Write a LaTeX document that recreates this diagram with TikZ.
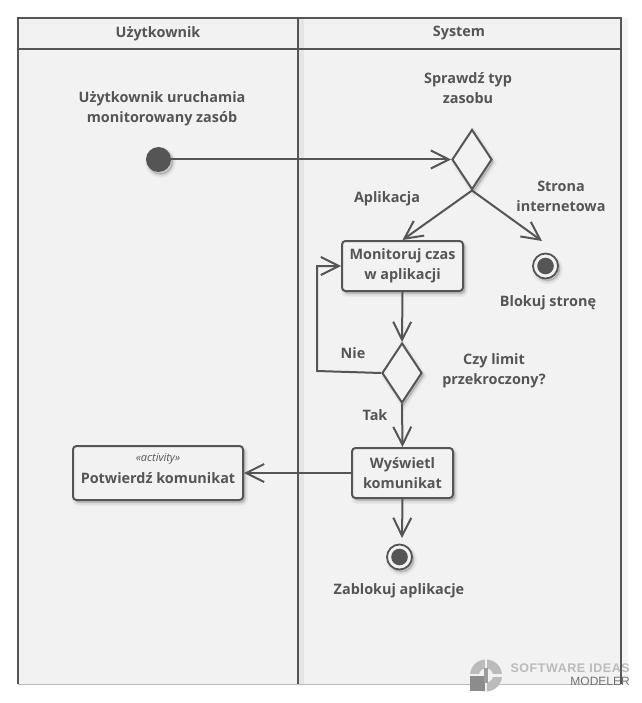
\documentclass[tikz,border=0pt]{standalone}
\usepackage{fontspec}
\setmainfont{Open Sans}
\newfontfamily\wmfont{Liberation Sans}
\newfontfamily\wmwide[LetterSpace=4.5]{Liberation Sans}
\usetikzlibrary{arrows.meta,shapes.geometric,shadows,calc}
\definecolor{ink}{HTML}{555555}
\definecolor{panel}{HTML}{F2F2F2}
\definecolor{wm}{HTML}{BBBBBB}
\tikzset{
  softshadow/.style={
    preaction={fill=black,opacity=.04,transform canvas={xshift=2pt,yshift=-3pt},draw=black,line width=6pt},
    preaction={fill=black,opacity=.05,transform canvas={xshift=2pt,yshift=-3pt},draw=black,line width=3pt},
    preaction={fill=black,opacity=.06,transform canvas={xshift=2pt,yshift=-2pt},draw=black,line width=1pt}},
  lane/.style={draw=ink,line width=2pt},
  lanetitle/.style={text=ink,font=\fontsize{14.4}{16}\selectfont\bfseries,align=center},
  lbl/.style={text=ink,font=\fontsize{14.4}{20}\selectfont\bfseries,align=center},
  actbox/.style={softshadow,draw=ink,line width=2pt,fill=panel,rounded corners=3.5pt,minimum width=#1,inner sep=0pt,
     text=ink,font=\fontsize{14.4}{20}\selectfont\bfseries,align=center},
  dec/.style={softshadow,draw=ink,line width=2pt,fill=panel,diamond,aspect=.667,minimum width=40pt,minimum height=60pt,inner sep=0pt},
  startdot/.style={softshadow,circle,fill=ink,minimum size=25pt,inner sep=0pt},
  enddot/.style={softshadow,circle,draw=ink,line width=1.8pt,fill=panel,minimum size=25pt,inner sep=0pt,
     path picture={\fill[ink] (path picture bounding box.center) circle (8.3pt);}},
  flow/.style={draw=ink,line width=2pt,-{Straight Barb[length=18pt,width=18pt,line width=2pt]}}
}
\begin{document}
\begin{tikzpicture}[x=1pt,y=-1pt]
\useasboundingbox (0,0) rectangle (641,703);
\fill[panel] (18,18) rectangle (621,684);
\draw[wm,line width=1pt] (18,684) -- (621,684);
% lane shadows
\fill[black,opacity=.05] (299,18) rectangle (304,684);
\fill[black,opacity=.04] (622,18) rectangle (628,684);
\coordinate (tl) at (18,18); \coordinate (tm) at (298,18); \coordinate (tr) at (621,18);
\coordinate (bl) at (18,684); \coordinate (bm) at (298,684); \coordinate (br) at (621,684);
\coordinate (hl) at (18,49); \coordinate (hr) at (621,49);
\draw[lane] (bl) -- (tl) -- (tr) -- (br);
\draw[lane] (tm) -- (bm);
\draw[lane] (hl) -- (hr);
\node[lanetitle] (lane1) at (158,33.5) {Użytkownik};
\node[lanetitle] (lane2) at (459,33.5) {System};
% nodes
\node[lbl] (t1) at (162,108.7) {Użytkownik uruchamia\\monitorowany zasób};
\node[startdot] (start) at (158.5,159.5) {};
\node[lbl] (t2) at (468,88) {Sprawdź typ\\zasobu};
\node[dec] (d1) at (472,159.5) {};
\node[lbl] (t3) at (387,199) {Aplikacja};
\node[lbl] (t4) at (561,196) {Strona\\internetowa};
\node[actbox=121pt,minimum height=50pt] (mon) at (402.5,266) {\rule{0pt}{0pt}Monitoruj czas\\w aplikacji};
\node[enddot] (end1) at (545.5,266) {};
\node[lbl] (t5) at (548,303) {Blokuj stronę};
\node[dec] (d2) at (402,373) {};
\node[lbl] (t6) at (353,353) {Nie};
\node[lbl] (t7) at (494,371) {Czy limit\\przekroczony?};
\node[lbl] (t8) at (375,415) {Tak};
\node[actbox=101pt,minimum height=50pt] (wys) at (402.5,473) {Wyświetl\\komunikat};
\node[actbox=170pt,minimum height=54pt,text depth=0pt] (pot) at (158,473) {};
\node[text=ink,font=\fontsize{11}{12}\selectfont\itshape] (ster) at (158,459) {«activity»};
\node[text=ink,font=\fontsize{14.4}{16}\selectfont\bfseries] (potl) at (158,478.5) {Potwierdź komunikat};
\node[enddot] (end2) at (399.5,557) {};
\node[lbl] (t9) at (399,590.5) {Zablokuj aplikacje};
% connector free ends
\coordinate (e1) at (542,241);
\coordinate (e2) at (402,538);
\coordinate (b1) at (317,371);
\coordinate (b2) at (317,266);
% connectors
\draw[flow] (start.east) -- (d1.west);
\draw[flow] (d1.south) -- (mon.north);
\draw[flow] (d1.south) -- (e1);
\draw[flow] (mon.south) -- (d2.north);
\draw[flow] (d2.west) -- (b1) -- (b2) -- (mon.west);
\draw[flow] (d2.south) -- (wys.north);
\draw[flow] (wys.west) -- (pot.east);
\draw[flow] (wys.south) -- (e2);
% watermark
\fill[wm] (486,675.5) circle (16pt);
\fill[panel] (486,675.5) circle (7pt);
\fill[panel] (484.8,659) rectangle (487.2,692);
\fill[panel] (470,674.3) rectangle (502,676.7);
\fill[black!45] (470,676) rectangle (485,691);
\fill[wm!70!ink] (484,668) rectangle (488,683);
\node[text=wm,font=\wmwide\fontsize{12.5}{13}\selectfont\bfseries,inner sep=0pt,anchor=east] (wm1) at (630,668.5) {SOFTWARE IDEAS};
\node[text=black!55,font=\wmfont\fontsize{12}{12}\selectfont,inner sep=0pt,anchor=east] (wm2) at (630,681) {MODELER};
\end{tikzpicture}
\end{document}
